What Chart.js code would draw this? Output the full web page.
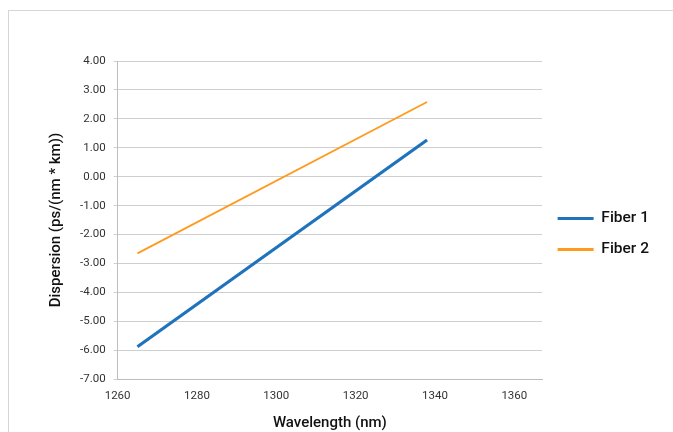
<!DOCTYPE html>
<html>
<head>
<meta charset="utf-8">
<script src="https://cdn.jsdelivr.net/npm/chart.js@4.4.1/dist/chart.umd.min.js"></script>
<style>
  html, body { margin: 0; padding: 0; background: #fff; }
  #frame {
    position: absolute; left: 8px; top: 10px; width: 700px; height: 440px;
    border-left: 1px solid #d6d6d6; border-top: 1px solid #d6d6d6;
  }
  #wrap { position: absolute; left: 0; top: 0; width: 673px; height: 432px; }
</style>
</head>
<body>
<div id="frame"></div>
<div id="wrap"><canvas id="chart"></canvas></div>
<script>
// Wavelength (nm) and dispersion values
const wavelengths = [1265, 1338];
const fiber1 = [-5.88, 1.27];
const fiber2 = [-2.65, 2.58];
const xTicks = [1260, 1280, 1300, 1320, 1340, 1360];

const BLUE = '#1f73bd';
const ORANGE = '#ff9a1f';
const TITLE_FONT = { family: 'Roboto', size: 15, weight: '500' };

const pts = (ys) => wavelengths.map((x, i) => ({ x: x, y: ys[i] }));

new Chart(document.getElementById('chart'), {
    type: 'line',
    data: {
        datasets: [
            { label: 'Fiber 1', data: pts(fiber1), borderColor: BLUE, backgroundColor: BLUE, borderWidth: 3.2, pointRadius: 0 },
            { label: 'Fiber 2', data: pts(fiber2), borderColor: ORANGE, backgroundColor: ORANGE, borderWidth: 1.8, pointRadius: 0 }
        ]
    },
    options: {
        responsive: true,
        maintainAspectRatio: false,
        animation: false,
        layout: { padding: { left: 43, top: 61, right: 14, bottom: 0 } },
        plugins: {
            tooltip: { enabled: false },
            legend: {
                position: 'right',
                align: 'start',
                // empty title only used as a spacer to push the items down
                title: { display: true, text: '', font: { size: 1 }, padding: { top: 0, bottom: 133 } },
                labels: {
                    boxWidth: 36,
                    boxHeight: 3,
                    padding: 15.5,
                    font: { family: 'Roboto', size: 15.5, weight: '500' },
                    generateLabels: (chart) => chart.data.datasets.map((ds, i) => ({
                        text: ds.label, fillStyle: ds.borderColor, strokeStyle: ds.borderColor,
                        fontColor: '#111', lineWidth: 0, datasetIndex: i, hidden: false
                    }))
                }
            }
        },
        scales: {
            x: {
                type: 'linear',
                min: 1260,
                max: 1367,
                afterBuildTicks: (axis) => { axis.ticks = xTicks.map(v => ({ value: v })); },
                grid: { display: false, drawTicks: false },
                border: { color: '#bdbdbd', width: 1 },
                ticks: { padding: 10, color: '#333', font: { family: 'Roboto', size: 11.5 }, maxRotation: 0, callback: (v) => String(v) },
                title: { display: true, text: 'Wavelength (nm)', color: '#111', font: TITLE_FONT, padding: { top: 1, bottom: 0 } }
            },
            y: {
                min: -7,
                max: 4,
                ticks: { stepSize: 1, padding: 8, color: '#333', font: { family: 'Roboto', size: 11.5 }, callback: (v) => v.toFixed(2) },
                grid: { color: '#cfcfcf', lineWidth: 1, tickLength: 4, tickColor: '#cfcfcf' },
                border: { color: '#bdbdbd', width: 1 },
                title: { display: true, text: 'Dispersion (ps/(nm * km))', color: '#111', font: TITLE_FONT, padding: { bottom: 7 } }
            }
        }
    }
});
</script>
</body>
</html>
